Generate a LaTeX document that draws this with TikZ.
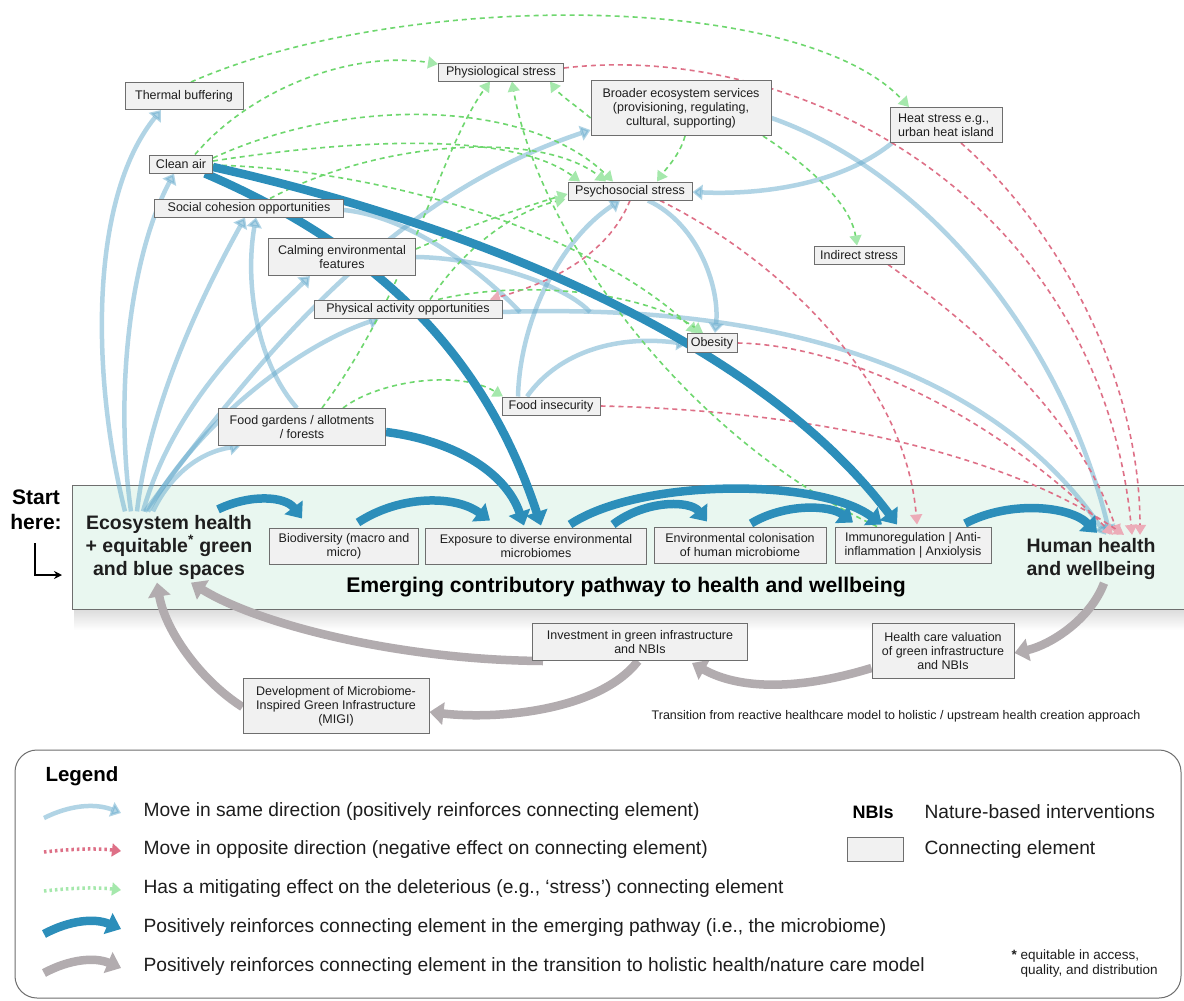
\documentclass[tikz,border=0pt]{standalone}
\usepackage{fontspec}
\setmainfont{Liberation Sans}
\usetikzlibrary{arrows.meta}

\definecolor{lblue}{RGB}{100,170,205}
\definecolor{dblue}{RGB}{44,142,186}
\definecolor{tgray}{RGB}{178,172,175}
\definecolor{rdash}{RGB}{222,112,135}
\definecolor{gdash}{RGB}{110,215,110}
\definecolor{rtip}{RGB}{236,172,184}
\definecolor{gtip}{RGB}{165,232,172}
\definecolor{boxfill}{RGB}{241,241,241}
\definecolor{boxline}{RGB}{110,110,110}
\definecolor{mint}{RGB}{233,247,240}
\definecolor{ink}{RGB}{30,30,30}

\pgfdeclarelayer{bandlayer}
\pgfdeclarelayer{linelayer}
\pgfsetlayers{bandlayer,linelayer,main}

\tikzset{
  box/.style={draw=boxline, fill=boxfill, line width=1pt, text=ink, align=center,
    inner sep=1pt, font=\fontsize{12.5}{14}\selectfont},
  bigtext/.style={text=ink, align=center, font=\fontsize{19.5}{23}\selectfont\bfseries},
  legtext/.style={anchor=west, text=ink, font=\fontsize{19.2}{22}\selectfont},
  lb/.style={draw=lblue, opacity=0.5, line width=4.5pt,
    -{Triangle[length=10pt,width=15pt]}},
  lbjoin/.style={draw=lblue, opacity=0.5, line width=4.5pt},
  db/.style={draw=dblue, line width=8.5pt, -{Triangle[length=14pt,width=22pt]}},
  gy/.style={draw=tgray, line width=8.5pt, -{Triangle[length=14pt,width=22pt]}},
  rd/.style={draw=rdash, line width=1.6pt, dash pattern=on 5pt off 4pt,
    -{Triangle[length=10pt,width=12pt,color=rtip]}},
  gr/.style={draw=gdash, line width=1.6pt, dash pattern=on 5pt off 4pt,
    -{Triangle[length=10pt,width=12pt,color=gtip]}},
}

\begin{document}
\begin{tikzpicture}[x=1pt,y=-1pt]
\useasboundingbox (0,0) rectangle (1184,1001);

% ---------- pathway band ----------
\begin{pgfonlayer}{bandlayer}
  \fill[white] (0,0) rectangle (1184,1001);
  % soft shadow under the band
  \shade[top color=black!14, bottom color=white] (74,609) rectangle (1184,630);
  \fill[mint] (72,485) rectangle (1200,609);
  \draw[boxline, line width=1pt] (1200,485) -- (72,485) -- (72,609) -- (1200,609);
\end{pgfonlayer}

% ---------- connecting elements ----------
\node[box, minimum width=118pt, minimum height=27pt] (thermal) at (184,96) {Thermal buffering};
\node[box, minimum width=63pt, minimum height=18pt] (cleanair) at (181,164) {Clean air};
\node[box, minimum width=189pt, minimum height=18pt] (social) at (249,208) {Social cohesion opportunities};
\node[box, minimum width=147pt, minimum height=37pt] (calming) at (342,257) {Calming environmental\\features};
\node[box, minimum width=188pt, minimum height=18pt] (physact) at (408,309) {Physical activity opportunities};
\node[box, minimum width=167pt, minimum height=37pt] (foodgard) at (302,427) {Food gardens / allotments\\/ forests};
\node[box, minimum width=98pt, minimum height=18pt] (foodins) at (551,406) {Food insecurity};
\node[box, minimum width=125pt, minimum height=18pt] (physio) at (501,72) {Physiological stress};
\node[box, minimum width=180pt, minimum height=55pt] (broader) at (681,108) {Broader ecosystem services\\(provisioning, regulating,\\cultural, supporting)};
\node[box, minimum width=124pt, minimum height=18pt] (psycho) at (630,191) {Psychosocial stress};
\node[box, minimum width=112pt, minimum height=35pt, align=left] (heat) at (946,125) {Heat stress e.g.,\\urban heat island};
\node[box, minimum width=90pt, minimum height=18pt] (indirect) at (859,255) {Indirect stress};
\node[box, minimum width=50pt, minimum height=19pt] (obesity) at (712,343) {Obesity};

% ---------- emerging pathway ----------
\node[bigtext] (eco) at (169,547) {Ecosystem health\\+ equitable\textsuperscript{*} green\\and blue spaces};
\node[box, minimum width=149pt, minimum height=36pt] (biodiv) at (344,546) {Biodiversity (macro and\\micro)};
\node[box, minimum width=221pt, minimum height=36pt] (exposure) at (536,546) {Exposure to diverse environmental\\microbiomes};
\node[box, minimum width=172pt, minimum height=36pt] (colon) at (740,545) {Environmental colonisation\\of human microbiome};
\node[box, minimum width=156pt, minimum height=36pt] (immuno) at (913,545) {Immunoregulation | Anti-\\inflammation | Anxiolysis};
\node[bigtext] (hh) at (1091,559) {Human health\\and wellbeing};
\node[bigtext, font=\fontsize{21.2}{25}\selectfont\bfseries, text=black] (pathlabel) at (626,587) {Emerging contributory pathway to health and wellbeing};

\node[text=black, align=center, font=\fontsize{21}{25}\selectfont\bfseries] (start) at (36,510) {Start\\here:};
\coordinate (st1) at (35,543);
\coordinate (st2) at (62,575);
\draw[line width=1.3pt, -{Stealth[length=8pt,width=8pt]}] (st1) |- (st2);

% ---------- transition loop ----------
\node[box, minimum width=215pt, minimum height=37pt] (invest) at (640,642) {Investment in green infrastructure\\and NBIs};
\node[box, minimum width=142pt, minimum height=55pt] (hcv) at (943,651) {Health care valuation\\of green infrastructure\\and NBIs};
\node[box, minimum width=186pt, minimum height=55pt] (migi) at (336,706) {Development of Microbiome-\\Inspired Green Infrastructure\\(MIGI)};
\node[text=ink, font=\fontsize{12.5}{14}\selectfont] (transition) at (896,716) {Transition from reactive healthcare model to holistic / upstream health creation approach};

% ---------- connectors ----------
\begin{pgfonlayer}{linelayer}
% positive links (same direction)
\draw[lb] ([xshift=-44pt]eco.north) .. controls (92,380) and (88,200) .. ([xshift=-23pt]thermal.south);
\draw[lb] ([xshift=-38pt]eco.north) .. controls (115,400) and (128,260) .. ([xshift=-7pt]cleanair.south);
\draw[lb] ([xshift=-32pt]eco.north) .. controls (150,400) and (205,290) .. ([xshift=-4pt]social.south);
\draw[lb] ([xshift=-5pt]foodgard.north) .. controls (255,360) and (245,280) .. ([xshift=7pt]social.south);
\draw[lb] ([xshift=-26pt]eco.north) .. controls (175,400) and (255,330) .. ([xshift=-32pt]calming.south);
\draw[lb] ([xshift=-21pt]eco.north) .. controls (200,420) and (300,345) .. ([xshift=-29pt]physact.south);
\draw[lb] ([xshift=-16pt]eco.north) .. controls (170,475) and (200,452) .. ([xshift=-62pt]foodgard.south);
\draw[lb] ([xshift=-24pt]eco.north) .. controls (250,370) and (380,200) .. ([yshift=-22pt]broader.west);
\draw[lb] ([yshift=-3pt]physact.east) .. controls (800,302) and (1000,380) .. ([xshift=15pt]hh.north);
\coordinate (m1) at (520,312);
\coordinate (m2) at (590,312);
\draw[lbjoin] ([yshift=-2pt]social.east) .. controls (420,218) and (495,285) .. (m1);
\draw[lbjoin] (calming.east) .. controls (485,258) and (565,285) .. (m2);
\draw[lb] ([yshift=-10pt]broader.east) .. controls (920,170) and (1060,330) .. ([xshift=19pt]hh.north);
\draw[lb] ([xshift=-54pt]heat.south) .. controls (840,185) and (760,195) .. ([yshift=-1pt]psycho.east);
\draw[lb] ([xshift=-33pt]foodins.north) .. controls (520,320) and (560,240) .. ([xshift=-10pt]psycho.south);
\draw[lb] ([xshift=-24pt]foodins.north) .. controls (560,350) and (620,335) .. ([yshift=-1pt]obesity.west);
\draw[lb] ([xshift=18pt]psycho.south) .. controls (700,225) and (720,290) .. ([xshift=3pt]obesity.north);

% opposite direction (negative effect)
\draw[rd] (psycho.south) .. controls (610,250) and (560,280) .. ([xshift=82pt]physact.north);
\draw[rd] ([xshift=30pt]psycho.south) .. controls (780,260) and (905,380) .. ([xshift=4pt,yshift=2pt]immuno.north);
\draw[rd] ([yshift=4pt]physio.east) .. controls (800,40) and (1100,200) .. ([xshift=41pt]hh.north);
\draw[rd] ([xshift=15pt]heat.south) .. controls (1060,230) and (1140,380) .. ([xshift=49pt]hh.north);
\draw[rd] ([xshift=29pt]indirect.south) .. controls (980,330) and (1080,420) .. ([xshift=27pt]hh.north);
\draw[rd] (obesity.east) .. controls (850,345) and (1000,420) .. ([xshift=22pt]hh.north);
\draw[rd] (foodins.east) .. controls (800,410) and (1000,450) .. ([xshift=33pt]hh.north);

% mitigating effects on stressors
\draw[gr] ([xshift=7pt]thermal.north) .. controls (400,-10) and (800,-10) .. ([xshift=-37pt]heat.north);
\draw[gr] ([xshift=14pt]cleanair.north) .. controls (250,90) and (350,50) .. ([yshift=8pt]physio.west);
\draw[gr] ([yshift=6pt]cleanair.east) .. controls (350,95) and (530,100) .. ([xshift=-17pt]psycho.north);
\draw[gr] ([yshift=3pt]cleanair.east) .. controls (350,140) and (510,130) .. ([xshift=-50pt]psycho.north);
\draw[gr] ([yshift=-1pt]cleanair.east) .. controls (400,170) and (600,240) .. ([xshift=-15pt]obesity.north);
\draw[gr] ([xshift=21pt]social.north) .. controls (380,140) and (540,130) .. ([xshift=-24pt]psycho.north);
\draw[gr] ([yshift=8pt]calming.east) .. controls (470,225) and (530,205) .. ([yshift=-3pt]psycho.west);
\draw[gr] ([xshift=22pt]physact.north) .. controls (470,240) and (520,210) .. ([xshift=-2pt,yshift=-8pt]psycho.west);
\draw[gr] ([xshift=30pt]physact.north) .. controls (520,280) and (640,290) .. ([xshift=-9pt]obesity.north);
\draw[gr] ([xshift=20pt]foodgard.north) .. controls (410,290) and (440,150) .. ([xshift=-11pt]physio.south);
\draw[gr] ([xshift=41pt]foodgard.north) .. controls (380,380) and (460,370) .. ([xshift=-48pt]foodins.north);
\draw[gr] ([xshift=-36pt]immuno.north) .. controls (690,440) and (540,240) .. ([xshift=11pt]physio.south);
\draw[gr] ([yshift=-10pt]broader.west) .. controls (575,105) and (560,95) .. ([xshift=49pt]physio.south);
\draw[gr] ([xshift=4pt]broader.south) .. controls (680,155) and (665,170) .. ([xshift=27pt]psycho.north);
\draw[gr] ([xshift=82pt]broader.south) .. controls (800,160) and (850,200) .. ([xshift=-2pt]indirect.north);

% emerging pathway (microbiome)
\draw[db] ([xshift=24pt]cleanair.south) .. controls (360,240) and (480,340) .. ([xshift=5pt,yshift=2pt]exposure.north);
\draw[db] ([yshift=-3pt]cleanair.east) .. controls (450,220) and (750,330) .. ([xshift=-16pt,yshift=2pt]immuno.north);
\draw[db] ([yshift=-5pt]foodgard.east) .. controls (450,440) and (505,470) .. ([xshift=-12pt,yshift=2pt]exposure.north);
\draw[db] ([xshift=49pt,yshift=2pt]eco.north) .. controls (250,494) and (285,496) .. ([xshift=-42pt,yshift=9pt]biodiv.north);
\draw[db] ([xshift=14pt,yshift=5pt]biodiv.north) .. controls (400,495) and (455,495) .. ([xshift=-46pt,yshift=7pt]exposure.north);
\draw[db] ([xshift=77pt,yshift=3pt]exposure.north) .. controls (645,500) and (690,500) .. ([xshift=-33pt,yshift=5pt]colon.north);
\draw[db] ([xshift=34pt,yshift=3pt]exposure.north) .. controls (640,478) and (820,478) .. ([xshift=-31pt,yshift=2pt]immuno.north);
\draw[db] ([xshift=11pt,yshift=3pt]colon.north) .. controls (785,503) and (830,505) .. ([xshift=-60pt,yshift=4pt]immuno.north);
\draw[db] ([xshift=52pt,yshift=3pt]immuno.north) .. controls (1010,500) and (1070,506) .. ([xshift=6pt,yshift=2pt]hh.north);

% transition to holistic health/nature care
\draw[gy] ([xshift=13pt]hh.south) .. controls (1090,620) and (1050,645) .. ([yshift=-2pt]hcv.east);
\draw[gy] ([yshift=-17pt]hcv.west) .. controls (800,690) and (740,690) .. ([xshift=52pt,yshift=-2pt]invest.south);
\draw[gy] ([xshift=-97pt]invest.south) .. controls (400,660) and (260,625) .. ([xshift=22pt]eco.south);
\draw[gy] ([xshift=-2pt]invest.south) .. controls (600,710) and (500,720) .. ([yshift=-6pt]migi.east);
\draw[gy] ([yshift=-1pt]migi.west) .. controls (200,680) and (165,630) .. ([xshift=-12pt]eco.south);
\end{pgfonlayer}

% ---------- legend ----------
\draw[boxline, line width=1pt, rounded corners=22pt] (15,750) rectangle (1181,998);
\node[anchor=west, text=black, font=\fontsize{20.5}{24}\selectfont\bfseries] (legtitle) at (42,776) {Legend};

\coordinate (la1) at (44,818); \coordinate (lb1) at (121,813);
\coordinate (la2) at (44,852); \coordinate (lb2) at (121,851);
\coordinate (la3) at (44,891); \coordinate (lb3) at (121,890);
\coordinate (la4) at (44,934); \coordinate (lb4) at (121,929);
\coordinate (la5) at (44,973); \coordinate (lb5) at (121,968);
\draw[lb] (la1) .. controls (70,805) and (95,803) .. (lb1);
\draw[draw=rdash, line width=3.5pt, dash pattern=on 2.5pt off 3pt, -{Triangle[length=9pt,width=13pt,color=rdash]}] (la2) .. controls (70,849) and (95,848) .. (lb2);
\draw[draw=gtip, line width=3.5pt, dash pattern=on 2.5pt off 3pt, -{Triangle[length=9pt,width=13pt,color=gtip]}] (la3) .. controls (70,888) and (95,887) .. (lb3);
\draw[db] (la4) .. controls (70,920) and (95,918) .. (lb4);
\draw[gy] (la5) .. controls (70,959) and (95,957) .. (lb5);

\node[legtext] (leg1) at (140,812) {Move in same direction (positively reinforces connecting element)};
\node[legtext] (leg2) at (140,850) {Move in opposite direction (negative effect on connecting element)};
\node[legtext] (leg3) at (140,889) {Has a mitigating effect on the deleterious (e.g., ‘stress’) connecting element};
\node[legtext] (leg4) at (140,928) {Positively reinforces connecting element in the emerging pathway (i.e., the microbiome)};
\node[legtext] (leg5) at (140,967) {Positively reinforces connecting element in the transition to holistic health/nature care model};

\node[legtext, font=\fontsize{18}{20}\selectfont\bfseries, text=black] (nbis) at (849,812) {NBIs};
\node[legtext] (nbidef) at (921,812) {Nature-based interventions};
\node[box, minimum width=56pt, minimum height=24pt] (legbox) at (875,849) {};
\node[legtext] (legboxtext) at (921,850) {Connecting element};
\node[anchor=west, align=left, text=ink, font=\fontsize{13.5}{15}\selectfont] (footnote) at (1008,964)
  {{\bfseries *} equitable in access,\\\hphantom{* }quality, and distribution};
\end{tikzpicture}
\end{document}
